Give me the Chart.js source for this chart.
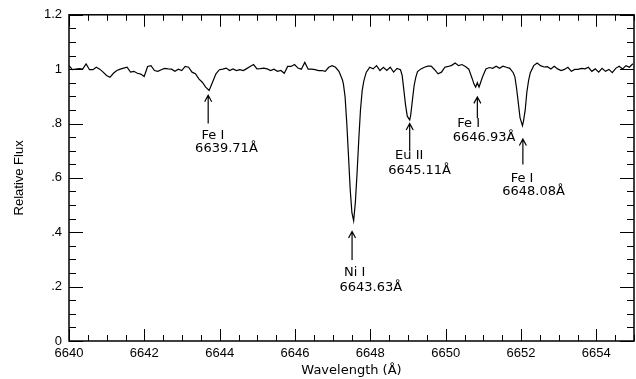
<!DOCTYPE html>
<html><head><meta charset="utf-8">
<script src="https://cdn.jsdelivr.net/npm/chart.js@4/dist/chart.umd.min.js"></script>
<style>html,body{margin:0;padding:0;background:#fff}#wrap{width:636px;height:379px}</style>
</head><body><div id="wrap"><canvas id="c" width="636" height="379"></canvas></div>
<script>
// ---- spectrum (observed wavelength in Å, relative flux) ----
const wavelength = [
6640.000,6640.091,6640.181,6640.272,6640.363,6640.454,6640.544,6640.635,6640.726,6640.816,
6640.907,6640.998,6641.089,6641.179,6641.270,6641.361,6641.452,6641.542,6641.633,6641.724,
6641.814,6641.905,6641.996,6642.087,6642.177,6642.268,6642.359,6642.449,6642.540,6642.631,
6642.722,6642.812,6642.903,6642.994,6643.084,6643.175,6643.266,6643.357,6643.447,6643.538,
6643.629,6643.720,6643.810,6643.901,6643.992,6644.082,6644.173,6644.264,6644.355,6644.445,
6644.536,6644.627,6644.717,6644.808,6644.899,6644.990,6645.080,6645.171,6645.262,6645.352,
6645.443,6645.534,6645.625,6645.715,6645.806,6645.897,6645.988,6646.078,6646.169,6646.260,
6646.350,6646.441,6646.532,6646.623,6646.713,6646.804,6646.895,6646.985,6647.076,6647.167,
6647.258,6647.285,6647.330,6647.375,6647.421,6647.466,6647.511,6647.557,6647.602,6647.648,
6647.693,6647.738,6647.784,6647.829,6647.893,6647.956,6647.983,6648.074,6648.165,6648.256,
6648.346,6648.437,6648.528,6648.618,6648.709,6648.800,6648.845,6648.891,6648.936,6648.981,
6649.045,6649.072,6649.117,6649.163,6649.208,6649.253,6649.344,6649.435,6649.526,6649.616,
6649.707,6649.798,6649.888,6649.979,6650.070,6650.161,6650.251,6650.342,6650.433,6650.524,
6650.614,6650.705,6650.750,6650.796,6650.841,6650.886,6650.932,6650.977,6651.068,6651.159,
6651.249,6651.340,6651.431,6651.521,6651.612,6651.703,6651.794,6651.839,6651.884,6651.930,
6651.975,6652.039,6652.066,6652.111,6652.156,6652.202,6652.247,6652.338,6652.428,6652.519,
6652.610,6652.701,6652.792,6652.882,6652.973,6653.064,6653.154,6653.245,6653.336,6653.427,
6653.517,6653.608,6653.699,6653.789,6653.880,6653.971,6654.062,6654.152,6654.243,6654.334,
6654.424,6654.515,6654.606,6654.697,6654.787,6654.878,6654.969
];
const flux = [
1.013,0.998,1.000,1.002,1.000,1.019,0.998,0.998,1.007,1.000,
0.989,0.977,0.970,0.985,0.995,1.000,1.004,1.007,0.989,0.992,
0.985,0.982,0.973,1.010,1.013,0.995,0.992,0.998,1.003,1.001,
1.000,0.992,1.000,0.995,1.010,1.007,0.989,0.983,0.964,0.952,
0.934,0.922,0.952,0.983,0.998,1.000,1.004,0.995,1.001,0.995,
0.998,0.995,1.002,1.010,1.017,1.001,1.002,1.004,1.001,0.995,
1.000,0.992,0.995,0.985,1.010,1.010,1.017,1.004,1.000,1.025,
1.000,1.000,0.998,0.995,0.995,0.992,1.007,1.013,1.007,0.992,
0.961,0.946,0.898,0.800,0.679,0.557,0.472,0.442,0.509,0.618,
0.740,0.849,0.922,0.958,0.989,1.001,1.007,1.001,1.013,0.995,
1.007,0.995,1.007,0.989,1.003,0.998,0.977,0.922,0.867,0.827,
0.813,0.831,0.886,0.940,0.971,0.991,1.001,1.007,1.011,1.011,
0.998,0.983,0.989,1.007,1.010,1.014,1.023,1.013,1.017,1.010,
1.000,0.965,0.946,0.934,0.950,0.934,0.953,0.971,1.001,1.006,
1.003,1.011,1.003,1.011,1.007,1.003,0.987,0.971,0.928,0.874,
0.821,0.792,0.809,0.849,0.916,0.959,0.987,1.013,1.023,1.013,
1.008,1.009,1.001,1.011,1.001,0.995,0.999,1.007,0.992,0.999,
0.999,1.003,1.001,1.007,0.992,1.001,0.989,1.003,0.992,0.999,
0.987,1.003,1.011,1.001,1.013,1.007,1.020
];

// ---- axes ----
const xRange = [6640, 6655];
const yRange = [0, 1.2];
const xTickLabels = [6640, 6642, 6644, 6646, 6648, 6650, 6652, 6654];
const yTickLabels = ['0', '.2', '.4', '.6', '.8', '1', '1.2'];
const xMinorStep = 0.5, xMajorStep = 2;
const yMinorStep = 0.05, yMajorStep = 0.2;

// ---- line identifications ----
const lineIds = ['Fe I', 'Ni I', 'Eu II', 'Fe I', 'Fe I'];
const restWavelengths = ['6639.71Å', '6643.63Å', '6645.11Å', '6646.93Å', '6648.08Å'];
const arrowAt   = [6643.695, 6647.515, 6649.045, 6650.841, 6652.050];
const arrowTip  = [0.904, 0.403, 0.800, 0.898, 0.743];
const arrowTail = [0.800, 0.298, 0.697, 0.819, 0.649];
const idPos   = [[6643.82, 0.755], [6647.586, 0.250], [6649.032, 0.682], [6650.610, 0.799], [6652.029, 0.597]];
const restPos = [[6644.18, 0.706], [6648.011, 0.197], [6649.310, 0.628], [6651.021, 0.748], [6652.334, 0.549]];

const labelFont = '13px "DejaVu Sans", sans-serif';

const frameTicks = {
  id: 'frameTicks',
  afterDatasetsDraw(chart) {
    const {ctx, chartArea: a, scales: {x, y}} = chart;
    ctx.save();
    ctx.strokeStyle = '#000';
    ctx.lineWidth = 1;
    ctx.beginPath();
    const nx = Math.round((xRange[1] - xRange[0]) / xMinorStep);
    for (let i = 0; i <= nx; i++) {
      const v = xRange[0] + i * xMinorStep;
      const major = (i % Math.round(xMajorStep / xMinorStep)) === 0;
      const len = major ? 12 : 6;
      const px = Math.round(x.getPixelForValue(v)) + 0.5;
      ctx.moveTo(px, a.bottom); ctx.lineTo(px, a.bottom - len);
      ctx.moveTo(px, a.top); ctx.lineTo(px, a.top + len);
    }
    const ny = Math.round((yRange[1] - yRange[0]) / yMinorStep);
    for (let i = 0; i <= ny; i++) {
      const v = yRange[0] + i * yMinorStep;
      const major = (i % Math.round(yMajorStep / yMinorStep)) === 0;
      const len = major ? 14 : 7;
      const py = Math.round(y.getPixelForValue(v)) + 0.5;
      ctx.moveTo(a.left, py); ctx.lineTo(a.left + len, py);
      ctx.moveTo(a.right, py); ctx.lineTo(a.right - len, py);
    }
    ctx.stroke();
    ctx.lineWidth = 1.5;
    ctx.strokeRect(a.left, a.top, a.right - a.left, a.bottom - a.top);

    // identifications
    ctx.lineWidth = 1.2;
    ctx.fillStyle = '#000';
    ctx.font = labelFont;
    ctx.textAlign = 'center';
    ctx.textBaseline = 'middle';
    for (let k = 0; k < lineIds.length; k++) {
      const px = x.getPixelForValue(arrowAt[k]);
      const t = y.getPixelForValue(arrowTip[k]);
      const b = y.getPixelForValue(arrowTail[k]);
      ctx.beginPath();
      ctx.moveTo(px, b); ctx.lineTo(px, t);
      ctx.moveTo(px - 3.5, t + 6.5); ctx.lineTo(px, t); ctx.lineTo(px + 3.5, t + 6.5);
      ctx.stroke();
      ctx.fillText(lineIds[k], x.getPixelForValue(idPos[k][0]), y.getPixelForValue(idPos[k][1]));
      ctx.fillText(restWavelengths[k], x.getPixelForValue(restPos[k][0]), y.getPixelForValue(restPos[k][1]));
    }
    ctx.restore();
  }
};

new Chart(document.getElementById('c'), {
  type: 'line',
  data: {
    datasets: [{
      data: wavelength.map((w, i) => ({x: w, y: flux[i]})),
      borderColor: '#000',
      borderWidth: 1.2,
      pointRadius: 0,
      tension: 0,
      fill: false
    }]
  },
  options: {
    responsive: false,
    animation: false,
    devicePixelRatio: 1,
    layout: {padding: {top: 12, right: 2, left: 0, bottom: 0}},
    plugins: {legend: {display: false}, tooltip: {enabled: false}},
    scales: {
      x: {
        type: 'linear', position: 'bottom',
        min: xRange[0], max: xRange[1],
        grid: {display: false, drawTicks: false},
        border: {display: false},
        afterBuildTicks(s) { s.ticks = xTickLabels.map(v => ({value: v})); },
        ticks: {
          color: '#000', padding: 5, maxRotation: 0, autoSkip: false,
          font: {family: '"Liberation Sans", Arial, sans-serif', size: 13},
          callback: v => String(v)
        },
        title: {display: true, text: 'Wavelength (Å)', color: '#000',
          font: {family: '"DejaVu Sans", sans-serif', size: 13}, padding: {top: 0, bottom: 1}},
        afterFit(s) { s.height = 38; }
      },
      y: {
        type: 'linear', position: 'left',
        min: yRange[0], max: yRange[1],
        grid: {display: false, drawTicks: false},
        border: {display: false},
        afterBuildTicks(s) { s.ticks = yTickLabels.map((t, i) => ({value: i * yMajorStep})); },
        ticks: {
          color: '#000', padding: 7,
          font: {family: '"Liberation Sans", Arial, sans-serif', size: 13},
          callback: (v, i) => yTickLabels[i]
        },
        title: {display: true, text: 'Relative Flux', color: '#000',
          font: {family: '"Liberation Sans", Arial, sans-serif', size: 13}, padding: {top: 12, bottom: 0}},
        afterFit(s) { s.width = 69; }
      }
    }
  },
  plugins: [frameTicks]
});
</script></body></html>
